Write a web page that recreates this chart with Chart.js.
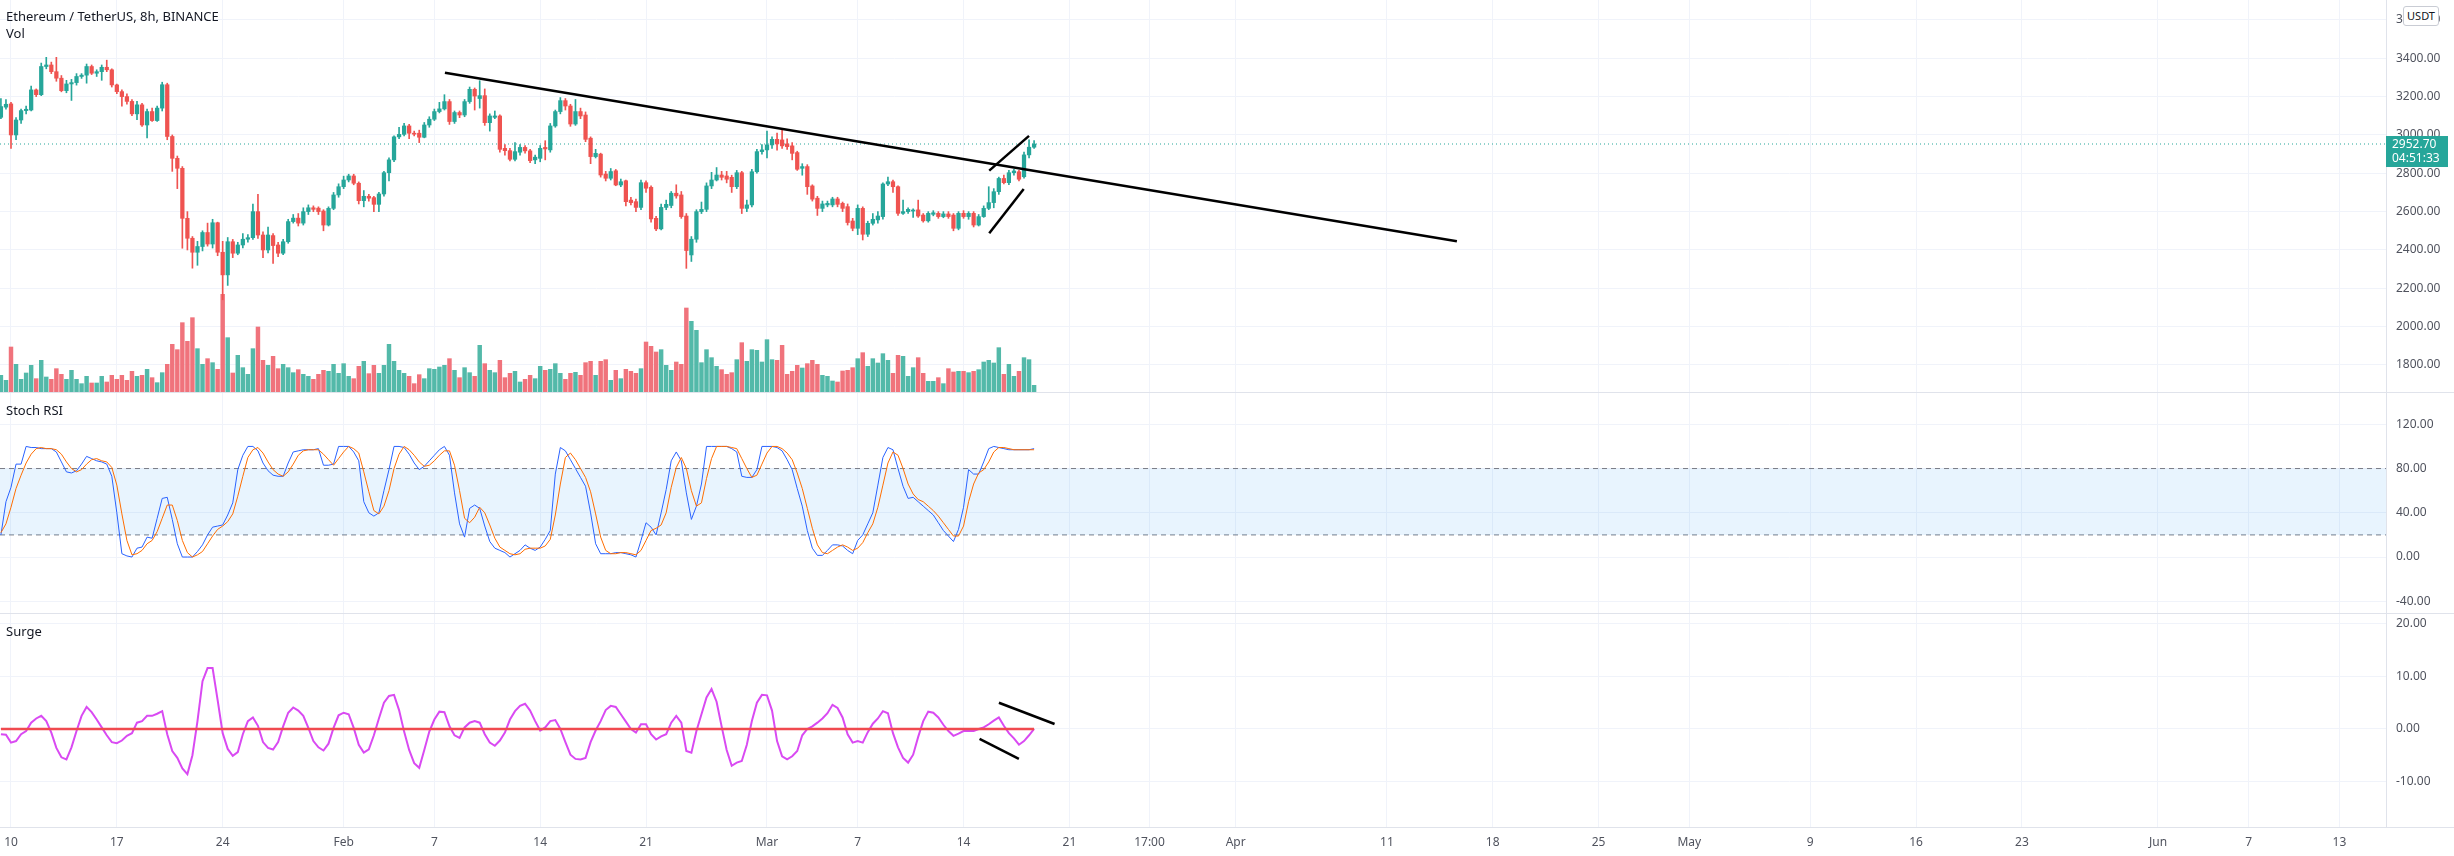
<!DOCTYPE html>
<html>
<head>
<meta charset="utf-8">
<title>Ethereum / TetherUS, 8h, BINANCE</title>
<script src="https://cdn.jsdelivr.net/npm/chart.js@4.4.1/dist/chart.umd.min.js"></script>
<style>
  body { margin: 0; background: #fff; font-family: "Noto Sans", sans-serif; }
  #wrap { position: relative; width: 2454px; height: 856px; overflow: hidden; background: #fff; }
  .pane { position: absolute; left: 0; }
  .sep { position: absolute; left: 0; width: 2454px; height: 1px; background: #e0e3eb; }
  .lbl { position: absolute; left: 6px; font-size: 13px; color: #131722; white-space: nowrap; line-height: 16px; }
  #usdt { position: absolute; left: 2403px; top: 6px; width: 34px; height: 18px; border: 1px solid #c9ccd4;
          border-radius: 3px; background: #fff; font-size: 11px; color: #131722; text-align: center; line-height: 18px; }
</style>
</head>
<body>
<div id="wrap">
  <canvas id="priceChart" class="pane" style="top:0" width="2454" height="392"></canvas>
  <div class="sep" style="top:392px"></div>
  <canvas id="stochChart" class="pane" style="top:393px" width="2454" height="220"></canvas>
  <div class="sep" style="top:613px"></div>
  <canvas id="surgeChart" class="pane" style="top:614px" width="2454" height="242"></canvas>
  <div class="sep" style="top:827px"></div>

  <div class="lbl" style="top:8px">Ethereum / TetherUS, 8h, BINANCE</div>
  <div class="lbl" style="top:25px">Vol</div>
  <div class="lbl" style="top:402px">Stoch RSI</div>
  <div class="lbl" style="top:623px">Surge</div>
  <div id="usdt">USDT</div>
</div>

<script>
// 8h bars, first one Jan 9 08:00, x axis counted in days from Jan 10 00:00
const firstBarDay = -2 / 3;
const barDays = 1 / 3;

const opens = [
  3092,3145,3162,3000,3078,3127,3130,3235,3210,3357,
  3365,3330,3296,3231,3266,3273,3305,3312,3357,3322,
  3330,3353,3340,3261,3226,3200,3175,3110,3157,3052,
  3122,3075,3140,3262,2992,2878,2826,2565,2461,2388,
  2418,2491,2431,2542,2388,2270,2443,2383,2426,2456,
  2464,2600,
  2478,2400,2475,2426,2383,2443,2548,2566,2540,2600,
  2620,2618,2603,2530,2617,2687,2730,2765,2786,2748,
  2657,2680,2673,2638,2692,2803,2870,2990,3003,3047,
  3009,3009,2988,3052,3082,3122,3136,3174,3070,3117,
  3104,3174,3238,3190,3205,3064,3092,3099,2930,2918,2873,
  2910,2935,2917,2870,2878,2935,2922,3047,3122,3179,
  3151,3057,3122,3104,2983,2887,2900,2796,2774,2813,
  2739,2761,2660,2652,2622,2751,2727,2565,2510,2622,
  2632,2696,2687,2577,2374,2456,2600,2612,2734,2765,
  2791,2786,2779,2730,2803,2617,2635,2808,2913,2922,2948,2977,
  2974,2953,2943,2908,2826,2835,2734,2670,2617,2635,
  2635,2666,2643,2626,2551,2513,2617,2482,2539,2557,
  2574,2744,2756,2730,2591,2600,2603,2609,2582,2552,
  2586,2591,2574,2588,2582,2513,2591,2574,2591,2530,
  2574,2617,2647,2704,2773,2751,2803,2808,2782,2896,2936
];
const highs = [
  3190,3185,3170,3090,3135,3150,3255,3240,3375,3405,
  3380,3405,3310,3285,3290,3320,3320,3370,3365,3340,
  3365,3390,3345,3265,3235,3215,3185,3175,3165,3135,
  3140,3150,3275,3270,3000,2890,2835,2600,2470,2445,
  2500,2540,2560,2545,2445,2465,2455,2440,2485,2480,
  2640,2690,
  2495,2520,2485,2440,2455,2560,2585,2590,2620,2635,
  2630,2625,2610,2625,2700,2745,2785,2795,2795,2755,
  2710,2690,2680,2700,2810,2880,2995,3040,3060,3055,
  3020,3025,3065,3095,3135,3170,3210,3185,3125,3125,
  3185,3250,3245,3283,3240,3110,3125,3105,2950,2930,2960,
  2950,2945,2925,2895,2945,2970,3060,3130,3195,3190,
  3160,3185,3140,3120,2990,2925,2905,2810,2825,2820,
  2770,2765,2675,2665,2765,2760,2735,2575,2640,2660,
  2705,2740,2705,2590,2470,2610,2650,2750,2805,2830,
  2810,2810,2790,2815,2810,2660,2820,2925,2950,3020,2990,3010,
  3035,2980,2960,2915,2850,2845,2740,2680,2655,2655,
  2675,2675,2650,2640,2565,2635,2625,2550,2590,2600,
  2750,2780,2765,2735,2660,2620,2615,2660,2590,2600,
  2605,2600,2600,2600,2590,2600,2605,2600,2600,2585,
  2630,2730,2720,2780,2790,2815,2820,2815,2910,2975,2970
];
const lows = [
  3085,3135,2930,2975,3060,3110,3125,3200,3205,3345,
  3320,3280,3225,3220,3180,3260,3295,3270,3315,3305,
  3285,3330,3250,3215,3150,3160,3100,3080,3045,2985,
  3070,3070,3125,2975,2810,2720,2409,2400,2305,2320,
  2395,2420,2410,2370,2140,2215,2360,2375,2410,2440,
  2455,2460,
  2360,2385,2330,2365,2375,2435,2540,2525,2530,2585,
  2600,2585,2500,2525,2610,2675,2720,2755,2740,2640,
  2625,2655,2600,2600,2680,2760,2860,2980,2995,2980,
  2995,2960,2985,3040,3075,3115,3130,3055,3060,3090,
  3095,3165,3130,3140,3050,3020,3085,2910,2895,2865,2865,
  2895,2905,2855,2850,2860,2870,2910,3040,3110,3130,
  3045,3050,3085,2965,2850,2880,2780,2760,2765,2735,
  2730,2630,2635,2600,2610,2700,2545,2500,2505,2610,
  2620,2670,2565,2304,2340,2440,2590,2600,2720,2760,
  2765,2750,2700,2720,2590,2600,2625,2800,2900,2880,2930,2920,
  2930,2925,2870,2815,2790,2690,2655,2580,2600,2625,
  2625,2625,2600,2530,2500,2480,2452,2470,2530,2540,
  2560,2735,2700,2580,2585,2590,2570,2570,2545,2545,
  2578,2565,2568,2565,2500,2505,2565,2560,2520,2525,
  2570,2610,2620,2690,2745,2740,2790,2760,2775,2880,2930
];
const closes = [
  3148,3160,3000,3078,3127,3134,3235,3210,3357,3365,
  3330,3296,3231,3266,3273,3305,3312,3357,3322,3330,
  3353,3340,3261,3226,3200,3175,3110,3157,3052,3122,
  3075,3140,3262,2992,2878,2826,2565,2461,2388,2418,
  2491,2431,2542,2388,2270,2443,2383,2426,2456,2464,
  2600,2478,
  2400,2478,2423,2383,2443,2548,2566,2540,2600,2620,
  2612,2600,2530,2617,2687,2730,2765,2786,2748,2657,
  2680,2670,2638,2692,2803,2870,2990,3003,3047,3009,
  3004,2988,3052,3082,3122,3136,3174,3070,3117,3104,
  3174,3238,3203,3205,3064,3099,3099,2925,2918,2873,2913,
  2935,2917,2866,2884,2930,2927,3047,3122,3179,3151,
  3057,3122,3099,2977,2887,2904,2791,2774,2809,2739,
  2756,2652,2647,2622,2751,2722,2562,2510,2622,2638,
  2696,2682,2574,2397,2456,2600,2612,2734,2765,2791,
  2779,2769,2730,2803,2617,2635,2808,2913,2922,2948,2977,2953,
  2943,2939,2904,2821,2835,2730,2665,2617,2640,2643,
  2666,2638,2617,2543,2513,2617,2482,2539,2560,2577,
  2744,2756,2730,2591,2600,2612,2608,2577,2552,2591,
  2594,2574,2588,2574,2513,2591,2574,2591,2530,2574,
  2617,2647,2704,2773,2751,2803,2812,2769,2896,2936,2952.7
];
// thousand ETH
const volumes = [
  50,35,135,83,38,57,80,40,95,45,
  38,70,53,38,65,38,25,47,27,27,
  47,30,50,38,50,35,62,47,50,68,
  43,28,58,83,143,127,208,152,223,130,
  83,100,88,68,293,163,57,110,73,53,
  130,195,
  95,80,107,70,83,73,58,67,53,47,
  38,53,65,62,83,56,85,47,40,77,
  92,55,80,56,80,143,92,65,56,47,
  25,52,40,70,68,75,80,100,65,43,
  73,58,47,140,85,65,58,95,43,56,62,
  30,38,50,40,77,65,68,85,56,38,
  56,59,50,88,92,50,92,97,35,65,
  40,68,62,56,70,150,137,120,127,80,
  65,90,83,252,212,185,88,127,103,77,
  67,53,58,97,148,92,127,125,90,157,97,95,
  140,53,62,80,72,85,95,83,50,47,
  33,30,63,65,73,100,118,77,100,87,
  115,95,56,110,107,47,73,103,56,32,
  32,43,25,70,60,62,62,58,62,67,
  90,95,87,133,53,83,47,62,103,97,20
];
const stochK = [
  20,50,63,84,84,100,99,99,98,98,
  98,95,86,77,76,78,84,91,89,87,
  86,84,73,40,3,1,0,8,9,18,
  17,35,53,54,34,12,0,0,0,5,
  11,20,27,28,29,38,49,79,92,100,
  100,96,85,78,74,73,73,85,95,96,
  97,97,97,98,83,83,84,100,100,100,
  95,87,50,40,37,40,60,79,100,100,
  99,93,85,79,82,87,92,97,100,92,
  58,30,18,44,47,44,28,14,8,6,
  4,0,3,6,11,8,6,9,16,24,
  75,99,96,88,80,72,64,40,12,3,
  3,3,4,4,3,2,0,15,31,27,
  20,40,61,87,95,87,58,34,46,66,
  100,100,100,100,100,98,95,73,72,72,
  79,100,100,100,99,96,88,79,62,46,
  24,8,1.5,1.5,6,11,11,10,6,3,
  15,20,30,40,65,90,99,97,80,64,
  53,54,50,46,42,38,31,24,19,14,
  25,45,79,75,75,86,98,100,99,98,
  97,97,97,97,97,98
];
const stochD = [
  22,30,45,62,74,85,93,98,99,98,
  98,97,93,86,80,77,79,84,88,89,
  87,86,81,65,39,15,2,3,6,12,
  15,23,35,47,47,33,15,4,0,2,
  5,12,19,25,28,32,39,55,73,90,
  97,99,94,86,79,75,73,77,84,92,
  96,97,97,97,93,88,83,89,95,100,
  98,94,77,59,42,39,46,60,80,93,
  100,97,92,86,82,83,87,92,96,96,
  83,60,35,31,36,45,40,29,17,9,
  6,3,2,3,7,8,8,8,10,16,
  38,66,90,94,88,80,72,59,39,18,
  6,3,3,4,4,3,2,6,15,24,
  26,29,40,63,81,90,80,60,46,49,
  71,89,100,100,100,99,98,89,80,72,
  74,84,94,100,100,98,94,88,76,62,
  44,26,11,4,3,6,9,11,9,6,
  8,13,22,30,45,65,85,95,92,80,
  66,57,52,50,46,42,37,31,25,19,
  19,28,50,66,76,79,86,95,99,99,
  98,97,97,97,97,97
];
const surge = [
  -1.0,-1.1,-2.6,-2.3,-1.0,-0.4,1.2,2.0,2.5,1.5,
  -0.7,-3.6,-5.4,-5.8,-3.5,-0.4,2.5,4.2,3.2,1.8,
  0.3,-1.2,-2.5,-2.7,-2.2,-1.3,-0.8,1.2,1.5,2.5,
  2.5,2.9,3.4,-1.0,-4.2,-5.5,-7.5,-8.6,-5.0,1.5,
  9.1,11.6,11.6,5.5,-0.8,-3.8,-5.1,-4.4,-1.0,1.5,
  2.2,0.6,-2.5,-3.6,-3.9,-2.5,0.5,3.1,4.1,3.5,
  2.5,0.2,-2.3,-3.5,-4.1,-2.8,0.2,2.6,3.1,2.8,
  0.2,-3.0,-4.5,-3.9,-1.2,2.0,5.0,6.3,6.5,3.6,
  -0.5,-4.0,-6.5,-7.4,-4.0,-0.5,1.8,3.3,3.2,0.5,
  -1.2,-1.7,0.3,1.2,1.5,1.2,-1.0,-2.6,-3.2,-2.2,
  -0.7,1.8,3.4,4.4,4.8,3.5,1.5,-0.3,0.3,1.5,
  1.7,0.0,-2.5,-4.9,-5.7,-5.8,-5.5,-2.5,-0.3,1.5,
  3.6,4.4,4.2,2.8,1.4,0.0,-0.7,0.9,0.9,-1.0,
  -2.0,-1.4,-1.0,1.2,2.5,1.2,-4.2,-4.5,-0.4,2.8,
  6.0,7.6,5.2,0.5,-4.0,-7.0,-6.4,-6.1,-3.0,1.5,
  5.0,6.5,6.4,3.5,-2.3,-5.2,-5.8,-5.2,-4.2,-1.2,
  0.0,0.5,1.2,2.0,3.0,4.6,4.0,2.2,-1.0,-2.6,
  -2.3,-2.6,-0.6,1.0,2.0,3.4,3.0,-0.8,-3.5,-5.5,
  -6.4,-4.9,-1.5,1.5,3.3,3.1,2.2,0.8,-0.4,-1.3,
  -0.9,-0.4,-0.4,-0.4,0.0,0.3,0.9,1.6,2.2,0.6,
  -0.8,-1.8,-3.0,-2.3,-1.2,0.0
];

const xTickDays = [0, 7, 14, 22, 28, 35, 42, 50, 56, 63, 70, 75.3, 81, 91, 98, 105, 111, 119, 126, 133, 142, 148, 154];
const xTickLabels = ["10", "17", "24", "Feb", "7", "14", "21", "Mar", "7", "14", "21", "17:00", "Apr", "11", "18", "25", "May", "9", "16", "23", "Jun", "7", "13"];
const priceTicks = [1800, 2000, 2200, 2400, 2600, 2800, 3000, 3200, 3400, 3600];
const stochTicks = [-40, 0, 40, 80, 120];
const surgeTicks = [-10, 0, 10, 20];
const stochBands = [20, 80];

// hand drawn lines, [day, value]
const trendMain = [[28.70, 3325], [95.63, 2446]];
const flagUpper = [[64.70, 2814], [67.33, 2995]];
const flagLower = [[64.70, 2487], [66.98, 2718]];
const surgeUpper = [[65.34, 5.0], [69.02, 0.95]];
const surgeLower = [[64.06, -1.9], [66.66, -5.7]];
const countdown = "04:51:33";

const X_MIN = -0.7275;
const X_MAX = 157.08;
const GRID = "#f0f3fa";
const TEXT = "#50535e";
const UP = "#26a69a";
const DOWN = "#ef5350";

Chart.defaults.font.family = "'Noto Sans', sans-serif";
Chart.defaults.font.size = 12;

const barTime = (i) => firstBarDay + i * barDays;
const isUp = closes.map((c, i) => c >= opens[i]);
const lastTime = barTime(closes.length - 1);
const lastClose = closes[closes.length - 1];

function xScale(showLabels) {
  return {
    type: "linear",
    min: X_MIN,
    max: X_MAX,
    offset: false,
    grid: { color: GRID, drawTicks: false, offset: false },
    border: { display: false },
    ticks: {
      display: showLabels,
      autoSkip: false,
      maxRotation: 0,
      padding: 8,
      color: TEXT,
      callback: (v, i) => xTickLabels[i],
    },
    afterBuildTicks: (s) => {
      s.ticks = xTickDays.map((v) => ({ value: v }));
    },
    afterFit: (s) => {
      s.height = showLabels ? 29 : 0;
      s.paddingLeft = 0;
      s.paddingRight = 0;
    },
  };
}

function yScale(min, max, tickValues) {
  return {
    position: "right",
    min: min,
    max: max,
    grid: { color: GRID, drawTicks: false },
    border: { display: true, color: "#e0e3eb" },
    ticks: { color: TEXT, padding: 10, callback: (v) => v.toFixed(2) },
    afterBuildTicks: (s) => {
      s.ticks = tickValues.map((v) => ({ value: v }));
    },
    afterFit: (s) => {
      s.width = 68;
      s.paddingTop = 0;
      s.paddingBottom = 0;
    },
  };
}

function segment(points, color, width) {
  return {
    type: "line",
    data: points.map((p) => ({ x: p[0], y: p[1] })),
    borderColor: color,
    borderWidth: width,
    pointRadius: 0,
    fill: false,
  };
}

const baseOptions = {
  responsive: false,
  maintainAspectRatio: false,
  animation: false,
  layout: { padding: 0 },
  plugins: { legend: { display: false }, tooltip: { enabled: false } },
};

// price tag on the axis
const priceTag = {
  id: "priceTag",
  afterDraw(chart) {
    const ctx = chart.ctx;
    const y = chart.scales.y.getPixelForValue(lastClose);
    const left = chart.chartArea.right;
    ctx.save();
    ctx.fillStyle = UP;
    ctx.fillRect(left, y - 8, 62, 31);
    ctx.fillStyle = "#fff";
    ctx.font = "12px 'Noto Sans', sans-serif";
    ctx.textBaseline = "middle";
    ctx.fillText(lastClose.toFixed(2), left + 6, y + 0.5);
    ctx.fillText(countdown, left + 6, y + 15);
    ctx.restore();
  },
};

new Chart(document.getElementById("priceChart"), {
  type: "bar",
  data: {
    datasets: [
      segment(trendMain, "#000", 2.5),
      segment(flagUpper, "#000", 2.5),
      segment(flagLower, "#000", 2.5),
      {
        label: "body",
        data: closes.map((c, i) => ({ x: barTime(i), y: [opens[i], c] })),
        backgroundColor: isUp.map((u) => (u ? UP : DOWN)),
        barThickness: 3.6,
        minBarLength: 1,
        grouped: false,
      },
      {
        label: "wick",
        data: highs.map((h, i) => ({ x: barTime(i), y: [lows[i], h] })),
        backgroundColor: isUp.map((u) => (u ? UP : DOWN)),
        barThickness: 1,
        grouped: false,
      },
      {
        type: "line",
        data: [{ x: X_MIN, y: lastClose }, { x: X_MAX, y: lastClose }],
        borderColor: UP,
        borderWidth: 1,
        borderDash: [1, 3],
        pointRadius: 0,
        fill: false,
      },
      {
        label: "Vol",
        data: volumes.map((v, i) => ({ x: barTime(i), y: v })),
        backgroundColor: isUp.map((u) => (u ? "#53b9a9" : "#f0737c")),
        barThickness: 3.8,
        grouped: false,
        yAxisID: "v",
      },
    ],
  },
  options: {
    ...baseOptions,
    scales: {
      x: xScale(false),
      y: yScale(1659, 3704, priceTicks),
      v: { display: false, min: 0, max: 1176 },
    },
  },
  plugins: [priceTag],
});

new Chart(document.getElementById("stochChart"), {
  type: "line",
  data: {
    datasets: [
      {
        data: stochD.map((v, i) => ({ x: barTime(i), y: v })),
        borderColor: "#ff6d00",
        borderWidth: 1,
        pointRadius: 0,
        fill: false,
      },
      {
        data: stochK.map((v, i) => ({ x: barTime(i), y: v })),
        borderColor: "#2962ff",
        borderWidth: 1,
        pointRadius: 0,
        fill: false,
      },
      {
        data: [{ x: X_MIN, y: stochBands[1] }, { x: X_MAX, y: stochBands[1] }],
        borderColor: "#787b86",
        borderWidth: 1,
        borderDash: [5, 4],
        pointRadius: 0,
        fill: "+1",
        backgroundColor: "rgba(33,150,243,0.1)",
      },
      {
        data: [{ x: X_MIN, y: stochBands[0] }, { x: X_MAX, y: stochBands[0] }],
        borderColor: "#787b86",
        borderWidth: 1,
        borderDash: [5, 4],
        pointRadius: 0,
        fill: false,
      },
    ],
  },
  options: {
    ...baseOptions,
    scales: {
      x: xScale(false),
      y: yScale(-50.6, 148.3, stochTicks),
    },
  },
});

new Chart(document.getElementById("surgeChart"), {
  type: "line",
  data: {
    datasets: [
      segment(surgeUpper, "#000", 2.5),
      segment(surgeLower, "#000", 2.5),
      {
        data: [{ x: barTime(0), y: 0 }, { x: lastTime, y: 0 }],
        borderColor: "#f04a4f",
        borderWidth: 2.5,
        pointRadius: 0,
        fill: false,
      },
      {
        data: surge.map((v, i) => ({ x: barTime(i), y: v })),
        borderColor: "#d94af2",
        borderWidth: 2,
        pointRadius: 0,
        fill: false,
      },
    ],
  },
  options: {
    ...baseOptions,
    scales: {
      x: xScale(true),
      y: yScale(-18.67, 21.9, surgeTicks),
    },
  },
});
</script>
</body>
</html>
